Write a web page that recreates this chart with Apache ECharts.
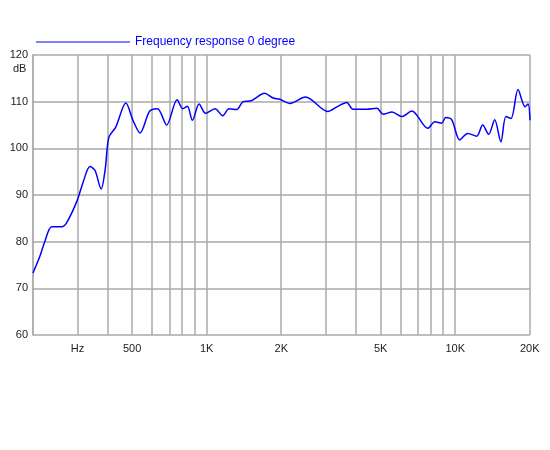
<!DOCTYPE html>
<html>
<head>
<meta charset="utf-8">
<script src="https://cdn.jsdelivr.net/npm/echarts@6/dist/echarts.min.js"></script>
<style>html,body{margin:0;padding:0;background:#fff}#chart{width:550px;height:450px}</style>
</head>
<body>
<div id="chart"></div>
<script>
// 频响数据 (Hz, dB)
const freqs = [200, 213, 223, 238, 261, 274, 301, 318, 339, 355, 376, 390, 404, 430, 473, 505, 539, 590, 634, 690, 760, 801, 836, 876, 932, 990,
    1080, 1160, 1230, 1320, 1400, 1510, 1710, 1850, 1970, 2163, 2497, 3073, 3370, 3660, 3880, 4410, 4840, 5130, 5570, 6100, 6690,
    7760, 8280, 8830, 9160, 9690, 10430, 11230, 12200, 12900, 13640, 14420, 15270, 16000, 16770, 17900, 19100, 19650, 20000];
const levels = [73.3, 76.8, 80, 83.2, 83.2, 84.2, 88.8, 92.7, 96.1, 95.3, 91.3, 95.3, 102.4, 104.5, 109.7, 106, 103.3, 108, 108.5, 105, 110.4, 108.5, 109, 106, 109.5, 107.5,
    108.5, 107, 108.5, 108.3, 110, 110.2, 111.8, 110.8, 110.5, 109.6, 111, 107.9, 109, 109.8, 108.4, 108.4, 108.6, 107.3, 107.8, 106.8, 108,
    104.3, 105.7, 105.4, 106.6, 106.1, 101.8, 103.2, 102.6, 105, 103, 106.1, 101.4, 106.8, 106.4, 112.6, 108.9, 109.5, 106];

// 竖向网格线频率与底部刻度文字
const gridFreqs = [200, 300, 400, 500, 600, 700, 800, 900, 1000, 2000, 3000, 4000, 5000, 6000, 7000, 8000, 9000, 10000, 20000];
const tickFreqs = [200, 300, 500, 1000, 2000, 5000, 10000, 20000];
const tickLabels = ['200', 'Hz', '500', '1K', '2K', '5K', '10K', '20K'];

const lg = f => Math.log10(f);
const myChart = echarts.init(document.getElementById('chart'));

const font = 'Liberation Sans, Arial, sans-serif';
const option = {
    backgroundColor: '#ffffff',
    animation: false,
    grid: { left: 33, right: 20, top: 55, bottom: 115 },
    legend: {
        left: 31, top: 31,
        data: ['Frequency response 0 degree'],
        icon: 'rect', itemWidth: 94, itemHeight: 1.2, itemGap: 2,
        textStyle: { color: '#0000ff', fontSize: 12, fontFamily: font }
    },
    graphic: [{ type: 'text', left: 13, top: 63, style: { text: 'dB', fontSize: 11, fontFamily: font, fill: '#222' } }],
    xAxis: {
        type: 'value', min: lg(200), max: lg(20000),
        axisLine: { show: false }, axisTick: { show: false }, axisLabel: { show: false }, splitLine: { show: false }
    },
    yAxis: {
        type: 'value', min: 60, max: 120, interval: 10,
        axisLine: { show: true, lineStyle: { color: '#999', width: 1.5 } },
        axisTick: { show: false },
        axisLabel: { color: '#222', fontSize: 11, fontFamily: font, margin: 5 },
        splitLine: { lineStyle: { color: '#aaa', width: 1.5 } }
    },
    series: [
        {
            name: 'Frequency response 0 degree',
            type: 'line',
            data: freqs.map((f, i) => [lg(f), levels[i]]),
            smooth: 0.3,
            showSymbol: false,
            lineStyle: { color: '#0000ff', width: 1.5 },
            itemStyle: { color: '#0000ff' },
            z: 5,
            markLine: {
                silent: true, symbol: 'none', animation: false,
                lineStyle: { color: '#aaa', width: 1.5, type: 'solid' },
                label: { show: false },
                labelLayout: { hideOverlap: false },
                data: gridFreqs.map(f => {
                    const idx = tickFreqs.indexOf(f);
                    const v = f === 200 ? lg(f) + 1e-6 : (f === 20000 ? lg(f) - 1e-6 : lg(f));
                    return {
                        xAxis: v,
                        label: idx >= 0 ? { show: true, position: 'start', formatter: tickLabels[idx], color: '#222', fontSize: 11, fontFamily: font, distance: 8 } : { show: false }
                    };
                })
            }
        }
    ]
};

myChart.setOption(option);
</script>
</body>
</html>
